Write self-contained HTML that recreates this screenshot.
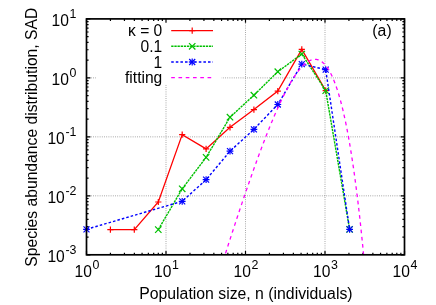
<!DOCTYPE html><html><head><meta charset="utf-8"><title>SAD</title><style>html,body{margin:0;padding:0;background:#fff}svg{display:block}text{font-family:"Liberation Sans",sans-serif;fill:#000}</style></head><body>
<svg width="436" height="305" viewBox="0 0 436 305">
<rect width="436" height="305" fill="#fff"/>
<path d="M166.00 18.9V254.8M245.50 18.9V254.8M325.00 18.9V254.8M86.5 77.88H404.5M86.5 136.85H404.5M86.5 195.83H404.5" stroke="#707070" stroke-width="0.75" stroke-dasharray="0.8 1.4" fill="none"/>
<rect x="96" y="18.9" width="125.5" height="65.9" fill="#fff"/>
<path d="M86.50 254.8v-3.9M86.50 18.9v3.9M86.5 18.90h3.9M404.5 18.90h-3.9M110.43 254.8v-2.1M110.43 18.9v2.1M86.5 60.12h2.1M404.5 60.12h-2.1M124.43 254.8v-2.1M124.43 18.9v2.1M86.5 49.74h2.1M404.5 49.74h-2.1M134.36 254.8v-2.1M134.36 18.9v2.1M86.5 42.37h2.1M404.5 42.37h-2.1M142.07 254.8v-2.1M142.07 18.9v2.1M86.5 36.65h2.1M404.5 36.65h-2.1M148.36 254.8v-2.1M148.36 18.9v2.1M86.5 31.98h2.1M404.5 31.98h-2.1M153.69 254.8v-2.1M153.69 18.9v2.1M86.5 28.04h2.1M404.5 28.04h-2.1M158.30 254.8v-2.1M158.30 18.9v2.1M86.5 24.62h2.1M404.5 24.62h-2.1M162.36 254.8v-2.1M162.36 18.9v2.1M86.5 21.60h2.1M404.5 21.60h-2.1M166.00 254.8v-3.9M166.00 18.9v3.9M86.5 77.88h3.9M404.5 77.88h-3.9M189.93 254.8v-2.1M189.93 18.9v2.1M86.5 119.10h2.1M404.5 119.10h-2.1M203.93 254.8v-2.1M203.93 18.9v2.1M86.5 108.71h2.1M404.5 108.71h-2.1M213.86 254.8v-2.1M213.86 18.9v2.1M86.5 101.34h2.1M404.5 101.34h-2.1M221.57 254.8v-2.1M221.57 18.9v2.1M86.5 95.63h2.1M404.5 95.63h-2.1M227.86 254.8v-2.1M227.86 18.9v2.1M86.5 90.96h2.1M404.5 90.96h-2.1M233.19 254.8v-2.1M233.19 18.9v2.1M86.5 87.01h2.1M404.5 87.01h-2.1M237.80 254.8v-2.1M237.80 18.9v2.1M86.5 83.59h2.1M404.5 83.59h-2.1M241.86 254.8v-2.1M241.86 18.9v2.1M86.5 80.57h2.1M404.5 80.57h-2.1M245.50 254.8v-3.9M245.50 18.9v3.9M86.5 136.85h3.9M404.5 136.85h-3.9M269.43 254.8v-2.1M269.43 18.9v2.1M86.5 178.07h2.1M404.5 178.07h-2.1M283.43 254.8v-2.1M283.43 18.9v2.1M86.5 167.69h2.1M404.5 167.69h-2.1M293.36 254.8v-2.1M293.36 18.9v2.1M86.5 160.32h2.1M404.5 160.32h-2.1M301.07 254.8v-2.1M301.07 18.9v2.1M86.5 154.60h2.1M404.5 154.60h-2.1M307.36 254.8v-2.1M307.36 18.9v2.1M86.5 149.93h2.1M404.5 149.93h-2.1M312.69 254.8v-2.1M312.69 18.9v2.1M86.5 145.99h2.1M404.5 145.99h-2.1M317.30 254.8v-2.1M317.30 18.9v2.1M86.5 142.57h2.1M404.5 142.57h-2.1M321.36 254.8v-2.1M321.36 18.9v2.1M86.5 139.55h2.1M404.5 139.55h-2.1M325.00 254.8v-3.9M325.00 18.9v3.9M86.5 195.83h3.9M404.5 195.83h-3.9M348.93 254.8v-2.1M348.93 18.9v2.1M86.5 237.05h2.1M404.5 237.05h-2.1M362.93 254.8v-2.1M362.93 18.9v2.1M86.5 226.66h2.1M404.5 226.66h-2.1M372.86 254.8v-2.1M372.86 18.9v2.1M86.5 219.29h2.1M404.5 219.29h-2.1M380.57 254.8v-2.1M380.57 18.9v2.1M86.5 213.58h2.1M404.5 213.58h-2.1M386.86 254.8v-2.1M386.86 18.9v2.1M86.5 208.91h2.1M404.5 208.91h-2.1M392.19 254.8v-2.1M392.19 18.9v2.1M86.5 204.96h2.1M404.5 204.96h-2.1M396.80 254.8v-2.1M396.80 18.9v2.1M86.5 201.54h2.1M404.5 201.54h-2.1M400.86 254.8v-2.1M400.86 18.9v2.1M86.5 198.52h2.1M404.5 198.52h-2.1M404.50 254.8v-3.9M404.50 18.9v3.9M86.5 254.80h3.9M404.5 254.80h-3.9" stroke="#000" stroke-width="1.2" fill="none"/>
<polyline points="110.4,229.6 134.3,229.6 158.3,202.0 182.2,134.6 206.1,148.9 230.0,127.3 253.9,109.6 277.8,91.1 301.8,49.4 325.7,90.6" stroke="#ff0000" stroke-width="1.3" fill="none"/>
<path d="M107.3 229.6H113.5M110.4 226.5V232.7" stroke="#ff0000" stroke-width="1.2" fill="none"/><path d="M131.2 229.6H137.4M134.3 226.5V232.7" stroke="#ff0000" stroke-width="1.2" fill="none"/><path d="M155.2 202.0H161.4M158.3 198.9V205.1" stroke="#ff0000" stroke-width="1.2" fill="none"/><path d="M179.1 134.6H185.3M182.2 131.5V137.7" stroke="#ff0000" stroke-width="1.2" fill="none"/><path d="M203.0 148.9H209.2M206.1 145.8V152.0" stroke="#ff0000" stroke-width="1.2" fill="none"/><path d="M226.9 127.3H233.1M230.0 124.2V130.4" stroke="#ff0000" stroke-width="1.2" fill="none"/><path d="M250.8 109.6H257.0M253.9 106.5V112.7" stroke="#ff0000" stroke-width="1.2" fill="none"/><path d="M274.7 91.1H280.9M277.8 88.0V94.2" stroke="#ff0000" stroke-width="1.2" fill="none"/><path d="M298.7 49.4H304.9M301.8 46.3V52.5" stroke="#ff0000" stroke-width="1.2" fill="none"/><path d="M322.6 90.6H328.8M325.7 87.5V93.7" stroke="#ff0000" stroke-width="1.2" fill="none"/>
<polyline points="158.3,229.6 182.2,188.8 206.1,157.4 230.0,117.2 253.9,95.2 277.8,71.7 301.8,54.0 325.7,90.6 349.6,229.4" stroke="#00c000" stroke-width="1.4" stroke-dasharray="2.35 0.8" fill="none"/>
<path d="M155.1 226.4L161.5 232.8M155.1 232.8L161.5 226.4" stroke="#00c000" stroke-width="1.2" fill="none"/><path d="M179.0 185.6L185.4 192.0M179.0 192.0L185.4 185.6" stroke="#00c000" stroke-width="1.2" fill="none"/><path d="M202.9 154.2L209.3 160.6M202.9 160.6L209.3 154.2" stroke="#00c000" stroke-width="1.2" fill="none"/><path d="M226.8 114.0L233.2 120.4M226.8 120.4L233.2 114.0" stroke="#00c000" stroke-width="1.2" fill="none"/><path d="M250.7 92.0L257.1 98.4M250.7 98.4L257.1 92.0" stroke="#00c000" stroke-width="1.2" fill="none"/><path d="M274.6 68.5L281.0 74.9M274.6 74.9L281.0 68.5" stroke="#00c000" stroke-width="1.2" fill="none"/><path d="M298.6 50.8L305.0 57.2M298.6 57.2L305.0 50.8" stroke="#00c000" stroke-width="1.2" fill="none"/><path d="M322.5 87.4L328.9 93.8M322.5 93.8L328.9 87.4" stroke="#00c000" stroke-width="1.2" fill="none"/><path d="M346.4 226.2L352.8 232.6M346.4 232.6L352.8 226.2" stroke="#00c000" stroke-width="1.2" fill="none"/>
<polyline points="86.5,229.3 182.2,201.3 206.1,179.7 230.0,151.2 253.9,129.3 277.8,104.5 301.8,64.1 325.7,69.6 349.6,229.3" stroke="#0000ff" stroke-width="1.4" stroke-dasharray="2.55 2.05" fill="none"/>
<path d="M83.1 229.3H89.9M86.5 225.9V232.7" stroke="#0000ff" stroke-width="1.2" fill="none"/><path d="M178.8 201.3H185.6M182.2 197.9V204.7" stroke="#0000ff" stroke-width="1.2" fill="none"/><path d="M202.7 179.7H209.5M206.1 176.3V183.1" stroke="#0000ff" stroke-width="1.2" fill="none"/><path d="M226.6 151.2H233.4M230.0 147.8V154.6" stroke="#0000ff" stroke-width="1.2" fill="none"/><path d="M250.5 129.3H257.3M253.9 125.9V132.7" stroke="#0000ff" stroke-width="1.2" fill="none"/><path d="M274.4 104.5H281.2M277.8 101.1V107.9" stroke="#0000ff" stroke-width="1.2" fill="none"/><path d="M298.4 64.1H305.2M301.8 60.7V67.5" stroke="#0000ff" stroke-width="1.2" fill="none"/><path d="M322.3 69.6H329.1M325.7 66.2V73.0" stroke="#0000ff" stroke-width="1.2" fill="none"/><path d="M346.2 229.3H353.0M349.6 225.9V232.7" stroke="#0000ff" stroke-width="1.2" fill="none"/><path d="M83.5 226.3L89.5 232.3M83.5 232.3L89.5 226.3" stroke="#0000ff" stroke-width="1.2" fill="none"/><path d="M179.2 198.3L185.2 204.3M179.2 204.3L185.2 198.3" stroke="#0000ff" stroke-width="1.2" fill="none"/><path d="M203.1 176.7L209.1 182.7M203.1 182.7L209.1 176.7" stroke="#0000ff" stroke-width="1.2" fill="none"/><path d="M227.0 148.2L233.0 154.2M227.0 154.2L233.0 148.2" stroke="#0000ff" stroke-width="1.2" fill="none"/><path d="M250.9 126.3L256.9 132.3M250.9 132.3L256.9 126.3" stroke="#0000ff" stroke-width="1.2" fill="none"/><path d="M274.8 101.5L280.8 107.5M274.8 107.5L280.8 101.5" stroke="#0000ff" stroke-width="1.2" fill="none"/><path d="M298.8 61.1L304.8 67.1M298.8 67.1L304.8 61.1" stroke="#0000ff" stroke-width="1.2" fill="none"/><path d="M322.7 66.6L328.7 72.6M322.7 72.6L328.7 66.6" stroke="#0000ff" stroke-width="1.2" fill="none"/><path d="M346.6 226.3L352.6 232.3M346.6 232.3L352.6 226.3" stroke="#0000ff" stroke-width="1.2" fill="none"/>
<polyline points="225.5,253.4 226.0,251.84 226.5,250.28 227.0,248.73 227.5,247.17 228.0,245.62 228.5,244.07 229.0,242.53 229.5,240.98 230.0,239.44 230.5,237.9 231.0,236.36 231.5,234.82 232.0,233.29 232.5,231.76 233.0,230.23 233.5,228.7 234.0,227.17 234.5,225.65 235.0,224.13 235.5,222.61 236.0,221.1 236.5,219.58 237.0,218.07 237.5,216.56 238.0,215.06 238.5,213.55 239.0,212.05 239.5,210.56 240.0,209.06 240.5,207.57 241.0,206.08 241.5,204.59 242.0,203.11 242.5,201.63 243.0,200.15 243.5,198.68 244.0,197.2 244.5,195.74 245.0,194.27 245.5,192.81 246.0,191.35 246.5,189.89 247.0,188.44 247.5,186.99 248.0,185.55 248.5,184.11 249.0,182.67 249.5,181.23 250.0,179.8 250.5,178.37 251.0,176.95 251.5,175.53 252.0,174.12 252.5,172.7 253.0,171.3 253.5,169.89 254.0,168.49 254.5,167.1 255.0,165.7 255.5,164.32 256.0,162.94 256.5,161.56 257.0,160.18 257.5,158.81 258.0,157.45 258.5,156.09 259.0,154.73 259.5,153.38 260.0,152.04 260.5,150.7 261.0,149.36 261.5,148.03 262.0,146.71 262.5,145.39 263.0,144.07 263.5,142.76 264.0,141.46 264.5,140.16 265.0,138.87 265.5,137.58 266.0,136.3 266.5,135.02 267.0,133.76 267.5,132.49 268.0,131.24 268.5,129.99 269.0,128.74 269.5,127.5 270.0,126.27 270.5,125.05 271.0,123.83 271.5,122.62 272.0,121.41 272.5,120.22 273.0,119.03 273.5,117.84 274.0,116.67 274.5,115.5 275.0,114.34 275.5,113.19 276.0,112.04 276.5,110.91 277.0,109.78 277.5,108.65 278.0,107.54 278.5,106.44 279.0,105.34 279.5,104.25 280.0,103.18 280.5,102.11 281.0,101.05 281.5,99.99 282.0,98.95 282.5,97.92 283.0,96.89 283.5,95.88 284.0,94.88 284.5,93.88 285.0,92.9 285.5,91.92 286.0,90.96 286.5,90.01 287.0,89.07 287.5,88.14 288.0,87.21 288.5,86.31 289.0,85.41 289.5,84.52 290.0,83.65 290.5,82.78 291.0,81.93 291.5,81.09 292.0,80.27 292.5,79.45 293.0,78.65 293.5,77.87 294.0,77.09 294.5,76.33 295.0,75.58 295.5,74.85 296.0,74.13 296.5,73.42 297.0,72.73 297.5,72.05 298.0,71.39 298.5,70.74 299.0,70.1 299.5,69.49 300.0,68.88 300.5,68.3 301.0,67.73 301.5,67.17 302.0,66.64 302.5,66.12 303.0,65.61 303.5,65.13 304.0,64.66 304.5,64.21 305.0,63.77 305.5,63.36 306.0,62.96 306.5,62.58 307.0,62.22 307.5,61.89 308.0,61.57 308.5,61.27 309.0,60.99 309.5,60.73 310.0,60.49 310.5,60.27 311.0,60.08 311.5,59.91 312.0,59.75 312.5,59.62 313.0,59.52 313.5,59.43 314.0,59.37 314.5,59.34 315.0,59.33 315.5,59.34 316.0,59.38 316.5,59.44 317.0,59.52 317.5,59.64 318.0,59.78 318.5,59.94 319.0,60.14 319.5,60.36 320.0,60.61 320.5,60.88 321.0,61.19 321.5,61.52 322.0,61.89 322.5,62.28 323.0,62.71 323.5,63.16 324.0,63.65 324.5,64.17 325.0,64.72 325.5,65.3 326.0,65.92 326.5,66.57 327.0,67.25 327.5,67.97 328.0,68.72 328.5,69.51 329.0,70.33 329.5,71.2 330.0,72.09 330.5,73.03 331.0,74.01 331.5,75.02 332.0,76.07 332.5,77.17 333.0,78.3 333.5,79.47 334.0,80.69 334.5,81.95 335.0,83.25 335.5,84.6 336.0,85.99 336.5,87.42 337.0,88.9 337.5,90.43 338.0,92.0 338.5,93.62 339.0,95.29 339.5,97.01 340.0,98.78 340.5,100.59 341.0,102.46 341.5,104.38 342.0,106.36 342.5,108.38 343.0,110.47 343.5,112.6 344.0,114.79 344.5,117.04 345.0,119.35 345.5,121.71 346.0,124.14 346.5,126.62 347.0,129.16 347.5,131.77 348.0,134.44 348.5,137.17 349.0,139.97 349.5,142.83 350.0,145.76 350.5,148.75 351.0,151.82 351.5,154.95 352.0,158.16 352.5,161.43 353.0,164.78 353.5,168.2 354.0,171.69 354.5,175.27 355.0,178.91 355.5,182.64 356.0,186.44 356.5,190.33 357.0,194.29 357.5,198.34 358.0,202.48 358.5,206.69 359.0,211.0 359.5,215.39 360.0,219.87 360.5,224.44 361.0,229.1 361.5,233.85 362.0,238.7 362.5,243.64 363.0,248.68 363.5,253.82" stroke="#ff00ff" stroke-width="1.3" stroke-dasharray="3.65 3.62" fill="none"/>
<rect x="86.5" y="18.9" width="318.0" height="235.9" fill="none" stroke="#000" stroke-width="1.7"/>
<path d="M171.2 30.6H213" stroke="#ff0000" stroke-width="1.3"/><path d="M189.1 30.6H195.3M192.2 27.5V33.7" stroke="#ff0000" stroke-width="1.2" fill="none"/>
<path d="M171.2 46.3H213" stroke="#00c000" stroke-width="1.4" stroke-dasharray="2.35 0.8"/><path d="M189.0 43.1L195.4 49.5M189.0 49.5L195.4 43.1" stroke="#00c000" stroke-width="1.2" fill="none"/>
<path d="M171.2 62.0H213" stroke="#0000ff" stroke-width="1.4" stroke-dasharray="2.55 2.05"/><path d="M188.8 62.0H195.6M192.2 58.6V65.4" stroke="#0000ff" stroke-width="1.2" fill="none"/><path d="M189.2 59.0L195.2 65.0M189.2 65.0L195.2 59.0" stroke="#0000ff" stroke-width="1.2" fill="none"/>
<path d="M171.2 77.7H213" stroke="#ff00ff" stroke-width="1.3" stroke-dasharray="3.65 3.62"/>
<defs><filter id="idf" x="0" y="0" width="436" height="305" filterUnits="userSpaceOnUse"><feOffset dx="0" dy="0"/></filter></defs><g filter="url(#idf)">
<text x="162.3" y="36.2" font-size="15.6" text-anchor="end">κ = 0</text>
<text x="162.3" y="51.9" font-size="15.6" text-anchor="end">0.1</text>
<text x="162.3" y="67.6" font-size="15.6" text-anchor="end">1</text>
<text x="162.3" y="83.3" font-size="15.6" text-anchor="end">fitting</text>
<text x="76.5" y="26.3" font-size="15.6" text-anchor="end">10<tspan font-size="12.4" dx="0.7" dy="-8.1">1</tspan></text>
<text x="76.5" y="85.3" font-size="15.6" text-anchor="end">10<tspan font-size="12.4" dx="0.7" dy="-8.1">0</tspan></text>
<text x="76.5" y="144.2" font-size="15.6" text-anchor="end">10<tspan font-size="12.4" dx="0.7" dy="-8.1">-1</tspan></text>
<text x="76.5" y="203.2" font-size="15.6" text-anchor="end">10<tspan font-size="12.4" dx="0.7" dy="-8.1">-2</tspan></text>
<text x="76.5" y="262.2" font-size="15.6" text-anchor="end">10<tspan font-size="12.4" dx="0.7" dy="-8.1">-3</tspan></text>
<text x="87.0" y="277.4" font-size="15.6" text-anchor="middle">10<tspan font-size="12.4" dx="0.7" dy="-8.1">0</tspan></text>
<text x="166.5" y="277.4" font-size="15.6" text-anchor="middle">10<tspan font-size="12.4" dx="0.7" dy="-8.1">1</tspan></text>
<text x="246.0" y="277.4" font-size="15.6" text-anchor="middle">10<tspan font-size="12.4" dx="0.7" dy="-8.1">2</tspan></text>
<text x="325.5" y="277.4" font-size="15.6" text-anchor="middle">10<tspan font-size="12.4" dx="0.7" dy="-8.1">3</tspan></text>
<text x="405.0" y="277.4" font-size="15.6" text-anchor="middle">10<tspan font-size="12.4" dx="0.7" dy="-8.1">4</tspan></text>
<text x="245.9" y="299.4" font-size="15.8" text-anchor="middle">Population size, n (individuals)</text>
<text transform="translate(36.5,137.2) rotate(-90)" font-size="15.7" text-anchor="middle">Species abundance distribution, SAD</text>
<text x="382" y="36.2" font-size="15.8" text-anchor="middle">(a)</text>
</g>
</svg></body></html>
